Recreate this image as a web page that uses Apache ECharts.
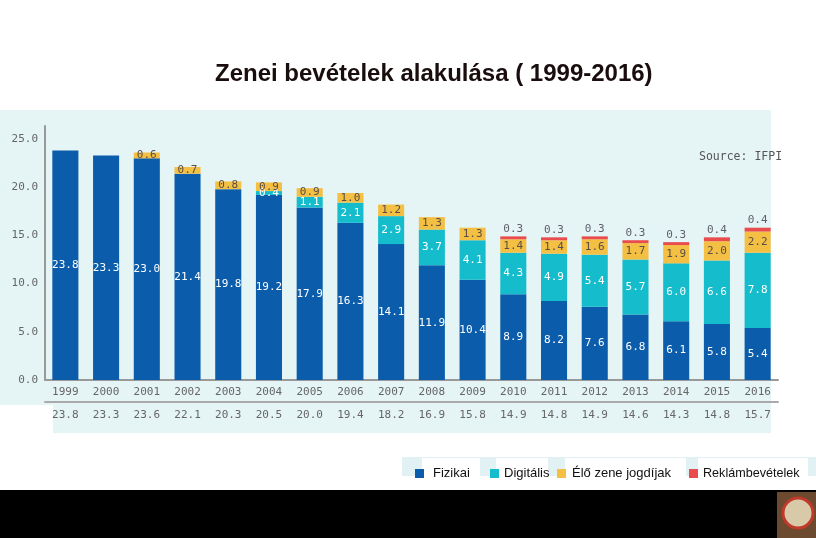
<!DOCTYPE html>
<html><head><meta charset="utf-8">
<script src="https://cdn.jsdelivr.net/npm/echarts@6/dist/echarts.min.js"></script>
<style>html,body{margin:0;padding:0;background:#fff}#c{width:816px;height:538px}</style>
</head><body><div id="c"></div>
<script>
var years = ['1999','2000','2001','2002','2003','2004','2005','2006','2007','2008','2009','2010','2011','2012','2013','2014','2015','2016'];
var fizikai = [23.8,23.3,23.0,21.4,19.8,19.2,17.9,16.3,14.1,11.9,10.4,8.9,8.2,7.6,6.8,6.1,5.8,5.4];
var digitalis = [0,0,0,0,0,0.4,1.1,2.1,2.9,3.7,4.1,4.3,4.9,5.4,5.7,6.0,6.6,7.8];
var elo = [0,0,0.6,0.7,0.8,0.9,0.9,1.0,1.2,1.3,1.3,1.4,1.4,1.6,1.7,1.9,2.0,2.2];
var reklam = [0,0,0,0,0,0,0,0,0,0,0,0.3,0.3,0.3,0.3,0.3,0.4,0.4];
var totals = ['23.8','23.3','23.6','22.1','20.3','20.5','20.0','19.4','18.2','16.9','15.8','14.9','14.8','14.9','14.6','14.3','14.8','15.7'];
var yTicks = [0,5,10,15,20,25];

var mono = 'DejaVu Sans Mono';
function fmt(p){ return p.value ? p.value.toFixed(1) : ''; }
function ser(name, data, color, labelColor, pos){
  return {name:name, type:'bar', stack:'s', data:data, barWidth:'64%',
    itemStyle:{color:color},
    label:{show:true, position:pos, formatter:fmt, color:labelColor, fontFamily:mono, fontSize:11, distance:2},
    z:5};
}
var chart = echarts.init(document.getElementById('c'), null, {renderer:'canvas'});
chart.setOption({
  animation:false,
  backgroundColor:'#ffffff',
  title:[
    {text:'Zenei bevételek alakulása ( 1999-2016)', left:210, top:57,
     textStyle:{fontFamily:'Liberation Sans Narrow, Liberation Sans', fontWeight:'bold', fontSize:24, color:'#1a0d0d'}},
    {text:'Source: IFPI', left:694, top:146, textStyle:{fontFamily:mono, fontWeight:'normal', fontSize:11.5, color:'#555'}}
  ],
  graphic:[
    {type:'rect', z:-10, shape:{x:0,y:110,width:771,height:295}, style:{fill:'#e5f4f5'}},
    {type:'rect', z:-10, shape:{x:53,y:405,width:718,height:28}, style:{fill:'#e5f4f5'}},
    {type:'rect', z:-10, shape:{x:402,y:457,width:414,height:19}, style:{fill:'#e2f1f4'}},
    {type:'rect', z:-9, shape:{x:422,y:458,width:58,height:18}, style:{fill:'#fff'}},
    {type:'rect', z:-9, shape:{x:496,y:458,width:52,height:18}, style:{fill:'#fff'}},
    {type:'rect', z:-9, shape:{x:565,y:458,width:121,height:18}, style:{fill:'#fff'}},
    {type:'rect', z:-9, shape:{x:698,y:458,width:110,height:18}, style:{fill:'#fff'}},
    {type:'rect', z:-9, shape:{x:0,y:490,width:816,height:48}, style:{fill:'#000'}},
    {type:'rect', z:-8, shape:{x:777,y:492,width:39,height:46}, style:{fill:'#6b4a30'}},
    {type:'circle', z:-7, shape:{cx:798,cy:513,r:15}, style:{fill:'#d8c9a8', stroke:'#c0392b', lineWidth:3}}
  ],
  legend:[
    {data:['Fizikai'], left:410, top:462, icon:'rect', itemWidth:9, itemHeight:9, textStyle:{fontFamily:'Liberation Sans', fontSize:13, color:'#111', padding:[0,0,0,4]}},
    {data:['Digitális'], left:485, top:462, icon:'rect', itemWidth:9, itemHeight:9, textStyle:{fontFamily:'Liberation Sans', fontSize:13, color:'#111'}},
    {data:['Élő zene jogdíjak'], left:552, top:462, icon:'rect', itemWidth:9, itemHeight:9, textStyle:{fontFamily:'Liberation Sans', fontSize:13, color:'#111', padding:[0,0,0,1]}},
    {data:['Reklámbevételek'], left:684, top:462, icon:'rect', itemWidth:9, itemHeight:9, textStyle:{fontFamily:'Liberation Sans', fontSize:12.6, color:'#111'}}
  ],
  grid:{left:45, right:38, top:126, bottom:158, containLabel:false},
  xAxis:[
    {type:'category', data:years, position:'bottom',
     axisLine:{show:true, lineStyle:{color:'#999', width:2}}, axisTick:{show:false},
     axisLabel:{fontFamily:mono, fontSize:11, color:'#666', margin:7}},
    {type:'category', data:totals, position:'bottom', offset:22,
     axisLine:{show:true, lineStyle:{color:'#aaa', width:2}}, axisTick:{show:false},
     axisLabel:{fontFamily:mono, fontSize:11, color:'#666', margin:8}}
  ],
  yAxis:{type:'value', min:yTicks[0], max:26.35, interval:5,
    axisLine:{show:true, lineStyle:{color:'#999', width:2}}, axisTick:{show:false},
    splitLine:{show:false},
    axisLabel:{showMaxLabel:false, fontFamily:mono, fontSize:11, color:'#666', margin:7,
      formatter:function(v){return v.toFixed(1);}}},
  series:[
    ser('Fizikai', fizikai, '#0b5dab', '#ffffff', 'inside'),
    ser('Digitális', digitalis, '#14bccc', '#ffffff', 'inside'),
    ser('Élő zene jogdíjak', elo, '#f4c044', '#5a4e45', 'inside'),
    ser('Reklámbevételek', reklam, '#e84c4c', '#5f5f6a', 'top')
  ]
});
</script></body></html>
